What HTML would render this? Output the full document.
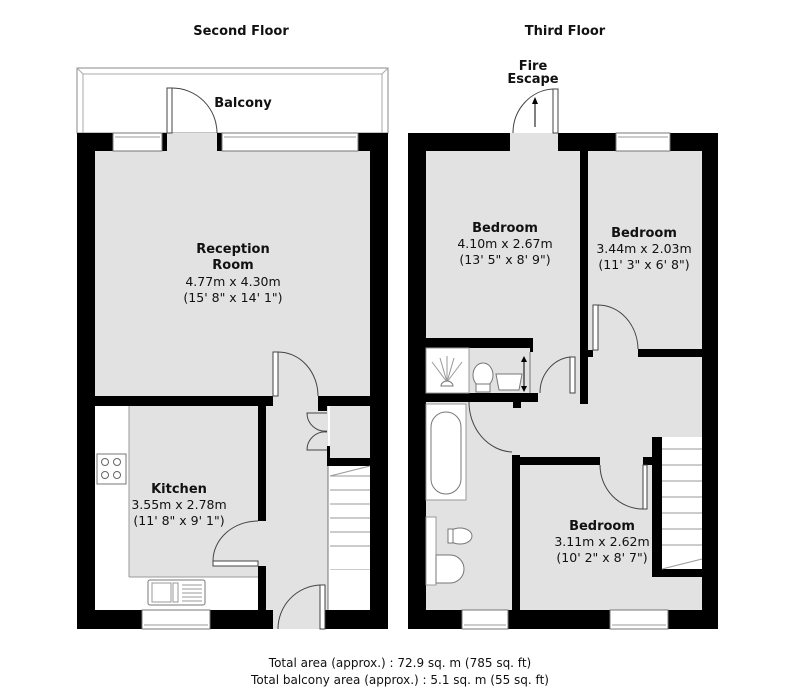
<!DOCTYPE html>
<html><head><meta charset="utf-8"><style>
html,body{margin:0;padding:0;background:#fff;}
svg{display:block;}
text{font-family:"DejaVu Sans","Liberation Sans",sans-serif;fill:#111;}
.b{font-weight:bold;}
</style></head><body>
<svg width="800" height="690" viewBox="0 0 800 690" xmlns="http://www.w3.org/2000/svg">
<text x="241" y="35" text-anchor="middle" font-size="13" class="b">Second Floor</text>
<text x="565" y="35" text-anchor="middle" font-size="13" class="b">Third Floor</text>

<!-- LEFT PLAN -->
<rect x="77" y="68" width="311" height="65" fill="#fff" stroke="#888" stroke-width="1"/>
<polyline points="83,133 83,74 382,74 382,133" fill="none" stroke="#aaa" stroke-width="1"/>
<line x1="77" y1="68" x2="83" y2="74" stroke="#aaa"/><line x1="388" y1="68" x2="382" y2="74" stroke="#aaa"/>
<text x="243" y="107" text-anchor="middle" font-size="13" class="b">Balcony</text>
<rect x="95" y="151" width="275" height="245" fill="#e2e2e2"/>
<rect x="129" y="406" width="129" height="171" fill="#e2e2e2"/>
<rect x="258" y="521" width="8" height="45" fill="#e2e2e2"/>
<rect x="266" y="396" width="62" height="214" fill="#e2e2e2"/>
<rect x="167" y="133" width="50" height="18" fill="#e2e2e2"/>
<rect x="273" y="396" width="45" height="10" fill="#e2e2e2"/>
<rect x="330" y="406" width="40" height="52" fill="#e2e2e2"/>
<rect x="273" y="610" width="52" height="19" fill="#e2e2e2"/>
<g fill="#000">
<rect x="77" y="133" width="18" height="496"/>
<rect x="370" y="133" width="18" height="496"/>
<rect x="77" y="133" width="36" height="18"/>
<rect x="162" y="133" width="5" height="18"/>
<rect x="217" y="133" width="5" height="18"/>
<rect x="358" y="133" width="30" height="18"/>
<rect x="77" y="610" width="65" height="19"/>
<rect x="210" y="610" width="63" height="19"/>
<rect x="325" y="610" width="63" height="19"/>
<rect x="95" y="396" width="178" height="10"/>
<rect x="318" y="396" width="52" height="10"/>
<rect x="318" y="396" width="9" height="15"/>
<rect x="258" y="406" width="8" height="115"/>
<rect x="258" y="566" width="8" height="44"/>
<rect x="327" y="458" width="43" height="8"/>
<rect x="327" y="446" width="3" height="12"/>
</g>
<g fill="#fff" stroke="#777" stroke-width="1">
<rect x="113" y="133" width="49" height="18"/>
<rect x="222" y="133" width="136" height="18"/>
<rect x="142" y="610" width="68" height="19"/>
</g>
<line x1="115" y1="137" x2="160" y2="137" stroke="#999"/>
<line x1="224" y1="137" x2="356" y2="137" stroke="#999"/>
<line x1="144" y1="625" x2="208" y2="625" stroke="#999"/>
<rect x="167" y="88" width="5" height="45" fill="#fff" stroke="#444" stroke-width="1"/>
<path d="M172,88 A45,45 0 0 1 217,133" fill="none" stroke="#444"/>
<rect x="273" y="352" width="5" height="44" fill="#fff" stroke="#444"/>
<path d="M278,352 A40,44 0 0 1 318,396" fill="none" stroke="#444"/>
<path d="M327,413 L307,413 A18,18 0 0 0 327,431 M327,450 L307,450 A18,18 0 0 1 327,432" fill="none" stroke="#444"/>
<rect x="213" y="561" width="45" height="5" fill="#fff" stroke="#444"/>
<path d="M213,561 A45,40 0 0 1 258,521" fill="none" stroke="#444"/>
<rect x="320" y="585" width="5" height="44" fill="#fff" stroke="#444"/>
<path d="M278,629 A44,44 0 0 1 320,585" fill="none" stroke="#444"/>
<line x1="129" y1="406" x2="129" y2="577" stroke="#999"/>
<line x1="129" y1="577" x2="258" y2="577" stroke="#999"/>
<rect x="97" y="454" width="29" height="30" fill="#fff" stroke="#777"/>
<g fill="none" stroke="#666"><circle cx="105" cy="462" r="3.5"/><circle cx="117" cy="462" r="3.5"/><circle cx="105" cy="475" r="3.5"/><circle cx="117" cy="475" r="3.5"/></g>
<rect x="148" y="580" width="57" height="25" rx="2" fill="#fff" stroke="#777"/>
<rect x="152" y="583" width="19" height="19" fill="none" stroke="#999"/>
<rect x="173" y="583" width="5" height="19" fill="none" stroke="#999"/>
<g stroke="#999"><line x1="182" y1="585" x2="202" y2="585"/><line x1="182" y1="589" x2="202" y2="589"/><line x1="182" y1="593" x2="202" y2="593"/><line x1="182" y1="597" x2="202" y2="597"/><line x1="182" y1="601" x2="202" y2="601"/></g>
<line x1="328" y1="466" x2="328" y2="610" stroke="#777"/>
<rect x="330" y="466" width="40" height="104" fill="#fff"/>
<g stroke="#999"><line x1="330" y1="476" x2="370" y2="466"/><line x1="330" y1="476" x2="370" y2="476"/><line x1="330" y1="490" x2="370" y2="490"/><line x1="330" y1="504" x2="370" y2="504"/><line x1="330" y1="518" x2="370" y2="518"/><line x1="330" y1="532" x2="370" y2="532"/><line x1="330" y1="546" x2="370" y2="546"/><line x1="330" y1="570" x2="370" y2="570"/></g>
<rect x="330" y="570" width="40" height="40" fill="#fff"/>
<text x="233" y="253" text-anchor="middle" font-size="13" class="b">Reception</text>
<text x="233" y="269" text-anchor="middle" font-size="13" class="b">Room</text>
<text x="233" y="286" text-anchor="middle" font-size="12.5">4.77m x 4.30m</text>
<text x="233" y="302" text-anchor="middle" font-size="12.5">(15' 8" x 14' 1")</text>
<text x="179" y="493" text-anchor="middle" font-size="13" class="b">Kitchen</text>
<text x="179" y="509" text-anchor="middle" font-size="12.5">3.55m x 2.78m</text>
<text x="179" y="525" text-anchor="middle" font-size="12.5">(11' 8" x 9' 1")</text>

<!-- RIGHT PLAN -->
<rect x="426" y="151" width="276" height="459" fill="#e2e2e2"/>
<rect x="510" y="133" width="48" height="18" fill="#e2e2e2"/>
<g fill="#000">
<rect x="408" y="133" width="18" height="496"/>
<rect x="702" y="133" width="16" height="496"/>
<rect x="408" y="133" width="102" height="18"/>
<rect x="558" y="133" width="58" height="18"/>
<rect x="670" y="133" width="48" height="18"/>
<rect x="408" y="610" width="54" height="19"/>
<rect x="508" y="610" width="102" height="19"/>
<rect x="668" y="610" width="50" height="19"/>
<rect x="580" y="151" width="8" height="253"/>
<rect x="588" y="350" width="5" height="7"/>
<rect x="638" y="349" width="64" height="8"/>
<rect x="426" y="338" width="107" height="10"/>
<rect x="527" y="338" width="6" height="14"/>
<rect x="426" y="393" width="112" height="9"/>
<rect x="513" y="400" width="8" height="8"/>
<rect x="512" y="455" width="8" height="155"/>
<rect x="512" y="457" width="88" height="8"/>
<rect x="643" y="457" width="10" height="8"/>
<rect x="652" y="437" width="10" height="140"/>
<rect x="652" y="569" width="50" height="8"/>
</g>
<g fill="#fff" stroke="#777"><rect x="616" y="133" width="54" height="18"/><rect x="462" y="610" width="46" height="19"/><rect x="610" y="610" width="58" height="19"/></g>
<line x1="618" y1="137" x2="668" y2="137" stroke="#999"/>
<line x1="464" y1="625" x2="506" y2="625" stroke="#999"/>
<line x1="612" y1="625" x2="666" y2="625" stroke="#999"/>
<rect x="553" y="89" width="5" height="44" fill="#fff" stroke="#444"/>
<path d="M513,133 A42,44 0 0 1 553,89" fill="none" stroke="#444"/>
<line x1="535" y1="127" x2="535" y2="100" stroke="#000"/>
<polygon points="535,97 532,104 538,104" fill="#000"/>
<text x="533" y="70" text-anchor="middle" font-size="13" class="b">Fire</text>
<text x="533" y="83" text-anchor="middle" font-size="13" class="b">Escape</text>
<rect x="426" y="348" width="104" height="45" fill="#e2e2e2"/>
<rect x="426" y="348" width="43" height="45" fill="#fff" stroke="#999"/>
<g stroke="#999"><line x1="447" y1="382" x2="432" y2="362"/><line x1="447" y1="382" x2="440" y2="358"/><line x1="447" y1="382" x2="447" y2="356"/><line x1="447" y1="382" x2="454" y2="358"/><line x1="447" y1="382" x2="462" y2="362"/></g>
<path d="M441,386 A6,5 0 0 1 453,386 Z" fill="#fff" stroke="#777"/>
<ellipse cx="483" cy="375" rx="10" ry="12" fill="#fff" stroke="#777"/>
<rect x="476" y="384" width="14" height="8" fill="#fff" stroke="#777"/>
<path d="M496,374 L522,374 L519,390 L499,390 Z" fill="#fff" stroke="#777"/>
<line x1="530" y1="352" x2="530" y2="393" stroke="#777"/>
<line x1="524" y1="360" x2="524" y2="388" stroke="#000"/>
<polygon points="524,356 521,362 527,362" fill="#000"/><polygon points="524,392 521,386 527,386" fill="#000"/>
<rect x="570" y="357" width="5" height="36" fill="#fff" stroke="#444"/>
<path d="M540,393 A34,36 0 0 1 570,357" fill="none" stroke="#444"/>
<rect x="593" y="305" width="5" height="45" fill="#fff" stroke="#444"/>
<path d="M598,305 A40,45 0 0 1 638,349" fill="none" stroke="#444"/>
<rect x="426" y="404" width="40" height="96" fill="#fff" stroke="#999"/>
<rect x="431" y="412" width="30" height="82" rx="15" fill="#fff" stroke="#777"/>
<path d="M469,402 A45,50 0 0 0 512,452" fill="none" stroke="#444"/>
<rect x="426" y="517" width="10" height="68" fill="#fff" stroke="#999"/>
<ellipse cx="460" cy="536" rx="12" ry="8" fill="#fff" stroke="#777"/>
<rect x="448" y="529" width="5" height="14" fill="#fff" stroke="#777"/>
<path d="M436,555 L450,555 A14,14 0 0 1 450,583 L436,583 Z" fill="#fff" stroke="#777"/>
<rect x="643" y="465" width="4" height="44" fill="#fff" stroke="#444"/>
<path d="M600,465 A43,44 0 0 0 643,509" fill="none" stroke="#444"/>
<rect x="662" y="437" width="40" height="132" fill="#fff"/>
<g stroke="#999"><line x1="662" y1="449" x2="702" y2="449"/><line x1="662" y1="465" x2="702" y2="465"/><line x1="662" y1="481" x2="702" y2="481"/><line x1="662" y1="497" x2="702" y2="497"/><line x1="662" y1="513" x2="702" y2="513"/><line x1="662" y1="529" x2="702" y2="529"/><line x1="662" y1="545" x2="702" y2="545"/><line x1="662" y1="569" x2="702" y2="559"/></g>
<text x="505" y="232" text-anchor="middle" font-size="13" class="b">Bedroom</text>
<text x="505" y="248" text-anchor="middle" font-size="12.5">4.10m x 2.67m</text>
<text x="505" y="264" text-anchor="middle" font-size="12.5">(13' 5" x 8' 9")</text>
<text x="644" y="237" text-anchor="middle" font-size="13" class="b">Bedroom</text>
<text x="644" y="253" text-anchor="middle" font-size="12.5">3.44m x 2.03m</text>
<text x="644" y="269" text-anchor="middle" font-size="12.5">(11' 3" x 6' 8")</text>
<text x="602" y="530" text-anchor="middle" font-size="13" class="b">Bedroom</text>
<text x="602" y="546" text-anchor="middle" font-size="12.5">3.11m x 2.62m</text>
<text x="602" y="562" text-anchor="middle" font-size="12.5">(10' 2" x 8' 7")</text>

<text x="400" y="667" text-anchor="middle" font-size="12">Total area (approx.) : 72.9 sq. m (785 sq. ft)</text>
<text x="400" y="684" text-anchor="middle" font-size="12">Total balcony area (approx.) : 5.1 sq. m (55 sq. ft)</text>
</svg>
</body></html>
